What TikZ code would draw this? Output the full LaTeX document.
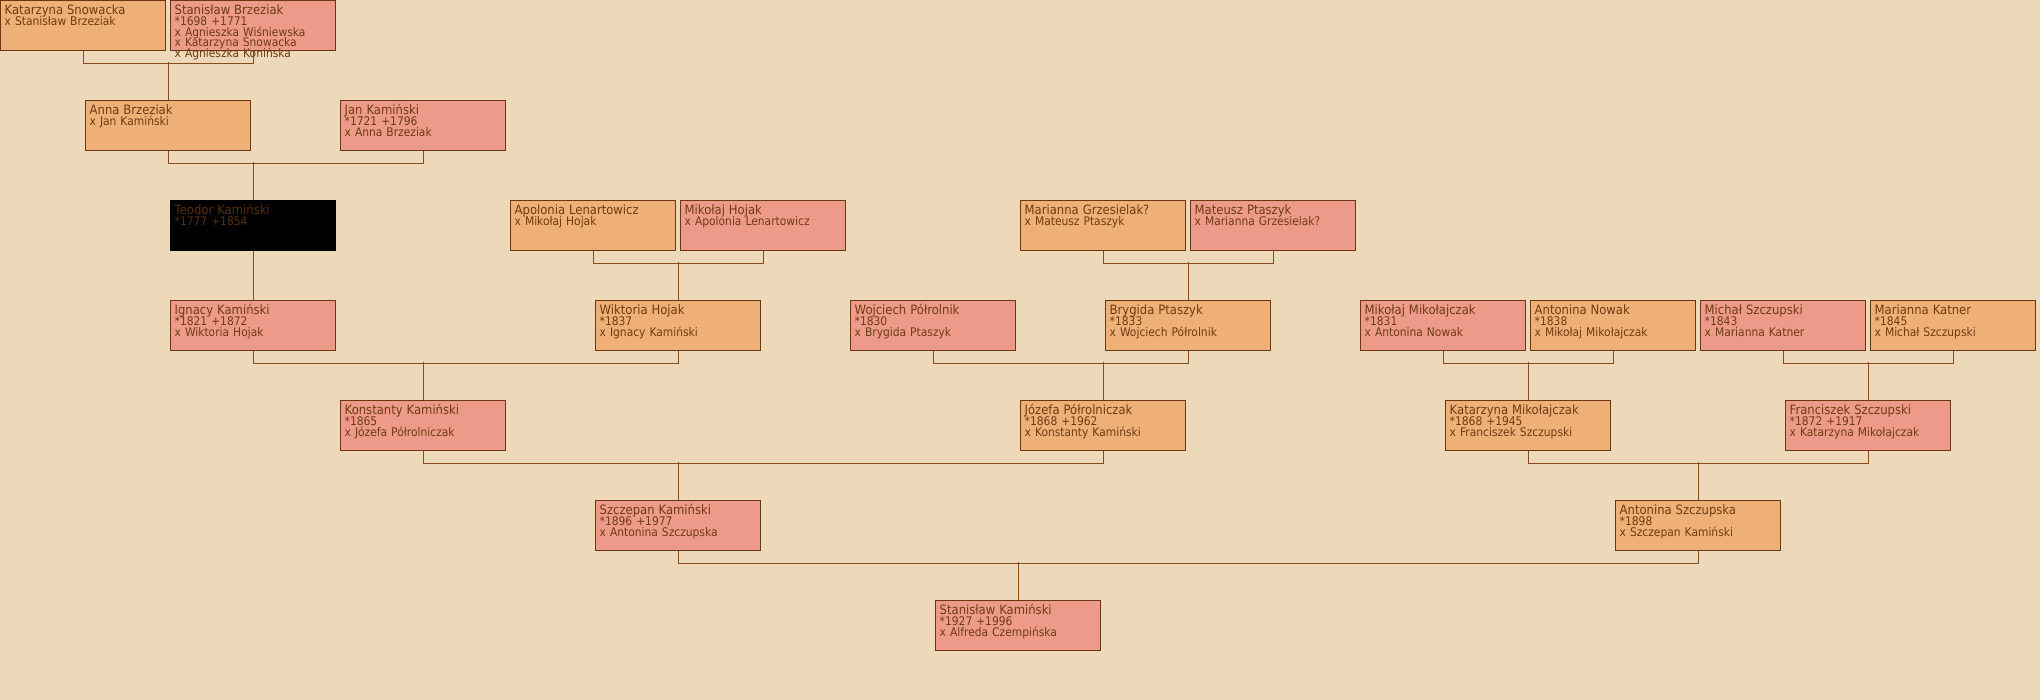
\documentclass[tikz,border=0pt]{standalone}
\usepackage{fontspec}
\setmainfont{DejaVu Sans}[FakeStretch=0.9]
\usepackage{tikz}
\usetikzlibrary{positioning}
\definecolor{bgcol}{HTML}{EED8BA}
\definecolor{womancol}{HTML}{EEB077}
\definecolor{mancol}{HTML}{EE9A8A}
\definecolor{framecol}{HTML}{6A3810}
\definecolor{textcol}{HTML}{6E3C12}
\definecolor{linkcol}{HTML}{8A4A1C}
\newcommand{\pname}[1]{{\fontsize{12.9}{10.7}\selectfont #1}}

\begin{document}
\begin{tikzpicture}[
            x=1pt, y=-1pt,
            person/.style={rectangle, draw=framecol, line width=1.4pt, anchor=north west, text=textcol, text width=157pt, align=left, inner xsep=4pt, inner ysep=0pt, text height=14pt, text depth=36pt, minimum width=165pt, font={\fontsize{11.9}{10.7}\selectfont\lineskiplimit=-20pt}},
            woman/.style={person, fill=womancol},
            man/.style={person, fill=mancol},
            link/.style={draw=linkcol, line width=1.1pt}
          ]
  \fill[bgcol] (0,0) rectangle (2040,700);
  \useasboundingbox (0,0) rectangle (2040,700);

  % Generation 1
  \node (ksnow) [woman] at (0,0) {\pname{Katarzyna Snowacka}\\x Stanisław Brzeziak};
  \node (sbrz) [man] at (170,0) {\pname{Stanisław Brzeziak}\\{*}1698 +1771\\x Agnieszka Wiśniewska\\x Katarzyna Snowacka\\x Agnieszka Konińska};

  % Generation 2
  \node (abrz) [woman] at (85,100) {\pname{Anna Brzeziak}\\x Jan Kamiński};
  \node (jkam) [man] at (340,100) {\pname{Jan Kamiński}\\{*}1721 +1796\\x Anna Brzeziak};

  % Generation 3
  \node (tkam) [person, fill=black, draw=black, text=textcol!80!black] at (170,200) {\pname{Teodor Kamiński}\\{*}1777 +1854};
  \node (alen) [woman] at (510,200) {\pname{Apolonia Lenartowicz}\\x Mikołaj Hojak};
  \node (mhoj) [man] at (680,200) {\pname{Mikołaj Hojak}\\x Apolonia Lenartowicz};
  \node (mgrz) [woman] at (1020,200) {\pname{Marianna Grzesielak?}\\x Mateusz Ptaszyk};
  \node (mpta) [man] at (1190,200) {\pname{Mateusz Ptaszyk}\\x Marianna Grzesielak?};

  % Generation 4
  \node (ikam) [man] at (170,300) {\pname{Ignacy Kamiński}\\{*}1821 +1872\\x Wiktoria Hojak};
  \node (whoj) [woman] at (595,300) {\pname{Wiktoria Hojak}\\{*}1837\\x Ignacy Kamiński};
  \node (wpol) [man] at (850,300) {\pname{Wojciech Półrolnik}\\{*}1830\\x Brygida Ptaszyk};
  \node (bpta) [woman] at (1105,300) {\pname{Brygida Ptaszyk}\\{*}1833\\x Wojciech Półrolnik};
  \node (mmik) [man] at (1360,300) {\pname{Mikołaj Mikołajczak}\\{*}1831\\x Antonina Nowak};
  \node (anow) [woman] at (1530,300) {\pname{Antonina Nowak}\\{*}1838\\x Mikołaj Mikołajczak};
  \node (mszc) [man] at (1700,300) {\pname{Michał Szczupski}\\{*}1843\\x Marianna Katner};
  \node (mkat) [woman] at (1870,300) {\pname{Marianna Katner}\\{*}1845\\x Michał Szczupski};

  % Generation 5
  \node (kkam) [man] at (340,400) {\pname{Konstanty Kamiński}\\{*}1865\\x Józefa Półrolniczak};
  \node (jpol) [woman] at (1020,400) {\pname{Józefa Półrolniczak}\\{*}1868 +1962\\x Konstanty Kamiński};
  \node (kmik) [woman] at (1445,400) {\pname{Katarzyna Mikołajczak}\\{*}1868 +1945\\x Franciszek Szczupski};
  \node (fszc) [man] at (1785,400) {\pname{Franciszek Szczupski}\\{*}1872 +1917\\x Katarzyna Mikołajczak};

  % Generation 6
  \node (skam) [man] at (595,500) {\pname{Szczepan Kamiński}\\{*}1896 +1977\\x Antonina Szczupska};
  \node (aszc) [woman] at (1615,500) {\pname{Antonina Szczupska}\\{*}1898\\x Szczepan Kamiński};

  % Generation 7
  \node (stkam) [man] at (935,600) {\pname{Stanisław Kamiński}\\{*}1927 +1996\\x Alfreda Czempińska};

  % Couples and children
  \draw [link] (ksnow.south) -- ++(0,12) -| (sbrz.south);
  \draw [link] (abrz.north) -- ++(0,-38);
  \draw [link] (abrz.south) -- ++(0,12) -| (jkam.south);
  \draw [link] (tkam.north) -- ++(0,-38);
  \draw [link] (tkam.south) -- (ikam.north);
  \draw [link] (alen.south) -- ++(0,12) -| (mhoj.south);
  \draw [link] (whoj.north) -- ++(0,-38);
  \draw [link] (mgrz.south) -- ++(0,12) -| (mpta.south);
  \draw [link] (bpta.north) -- ++(0,-38);
  \draw [link] (ikam.south) -- ++(0,12) -| (whoj.south);
  \draw [link] (kkam.north) -- ++(0,-38);
  \draw [link] (wpol.south) -- ++(0,12) -| (bpta.south);
  \draw [link] (jpol.north) -- ++(0,-38);
  \draw [link] (mmik.south) -- ++(0,12) -| (anow.south);
  \draw [link] (kmik.north) -- ++(0,-38);
  \draw [link] (mszc.south) -- ++(0,12) -| (mkat.south);
  \draw [link] (fszc.north) -- ++(0,-38);
  \draw [link] (kkam.south) -- ++(0,12) -| (jpol.south);
  \draw [link] (skam.north) -- ++(0,-38);
  \draw [link] (kmik.south) -- ++(0,12) -| (fszc.south);
  \draw [link] (aszc.north) -- ++(0,-38);
  \draw [link] (skam.south) -- ++(0,12) -| (aszc.south);
  \draw [link] (stkam.north) -- ++(0,-38);

\end{tikzpicture}
\end{document}
